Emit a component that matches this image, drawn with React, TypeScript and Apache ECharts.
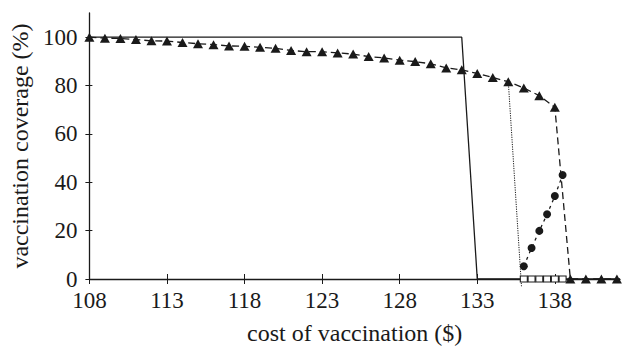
import React, { useEffect, useRef } from "react";
import * as echarts from "echarts";

// Tick labels
const xTicks = [108, 113, 118, 123, 128, 133, 138];
const yTicks = [0, 20, 40, 60, 80, 100];

// Solid line (step-like drop at 133)
const solidX = [108, 132, 133, 142.2];
const solidY = [100, 100, 0, 0];

// Triangles with dashed line
const triX = [108, 109, 110, 111, 112, 113, 114, 115, 116, 117, 118, 119, 120, 121, 122, 123, 124, 125, 126, 127, 128, 129, 130, 131, 132, 133, 134, 135, 136, 137, 138, 139, 140, 141, 142];
const triY = [100, 99.6, 99.5, 99, 98.5, 98.4, 97.8, 97.3, 96.9, 96.4, 96.2, 95.8, 95.4, 94.5, 94.0, 94.0, 93.5, 93, 92, 91.4, 90.5, 89.9, 89, 87.3, 86.5, 85, 83.3, 81.6, 79, 75.8, 71, 0, 0, 0, 0];

// Dotted drop line
const dotX = [135, 135.85];
const dotY = [81.6, -3];

// Circles with short-dashed line
const circX = [136, 136.5, 137, 137.5, 138, 138.5];
const circY = [5.3, 12.8, 19.9, 26.8, 34.3, 43];

// Open squares at zero
const sqX = [136, 136.5, 137, 137.5, 138, 138.5];
const sqY = [0, 0, 0, 0, 0, 0];

const pairs = (xs: number[], ys: number[]) => xs.map((x, i) => [x, ys[i]]);

export default function App() {
  const ref = useRef<HTMLDivElement>(null);
  useEffect(() => {
    if (!ref.current) return;
    const chart = echarts.init(ref.current, null, { renderer: "svg" });
    const font = "'Liberation Serif', 'Times New Roman', serif";
    const ink = "#1a1a1a";
    const xBase = {
      type: "value" as const,
      min: 108,
      max: 142.2,
      position: "bottom" as const,
      splitLine: { show: false },
    };
    const yBase = {
      type: "value" as const,
      min: 0,
      max: 110,
      position: "left" as const,
      splitLine: { show: false },
    };
    chart.setOption({
      animation: false,
      backgroundColor: "#ffffff",
      grid: { left: 83.3, top: 13, right: 2, bottom: 66.5, containLabel: false },
      xAxis: [
        {
          ...xBase,
          name: "cost of vaccination ($)",
          nameLocation: "middle",
          nameGap: 42,
          nameTextStyle: { fontFamily: font, fontSize: 24, color: ink },
          axisLine: { show: true, lineStyle: { color: ink, width: 1.3 } },
          axisTick: { show: true, inside: false, length: 5, lineStyle: { color: ink }, customValues: xTicks },
          axisLabel: { show: true, customValues: xTicks, fontFamily: font, fontSize: 23, color: ink, margin: 10 },
        },
        {
          ...xBase,
          axisLine: { show: false },
          axisTick: { show: true, inside: true, length: 5, lineStyle: { color: ink }, customValues: xTicks },
          axisLabel: { show: false },
        },
      ],
      yAxis: [
        {
          ...yBase,
          name: "vaccination coverage (%)",
          nameLocation: "middle",
          nameGap: 53,
          nameTextStyle: { fontFamily: font, fontSize: 24, color: ink, padding: [0, 0, 3, 0] },
          axisLine: { show: true, lineStyle: { color: ink, width: 1.3 } },
          axisTick: { show: true, inside: false, length: 4, lineStyle: { color: ink }, customValues: yTicks },
          axisLabel: { show: true, customValues: yTicks, fontFamily: font, fontSize: 23, color: ink, margin: 12 },
        },
        {
          ...yBase,
          axisLine: { show: false },
          axisTick: { show: true, inside: true, length: 3, lineStyle: { color: ink }, customValues: yTicks },
          axisLabel: { show: false },
        },
      ],
      series: [
        {
          type: "line",
          data: pairs(solidX, solidY),
          symbol: "none",
          lineStyle: { color: ink, width: 1.3 },
          z: 2,
        },
        {
          type: "line",
          data: pairs(dotX, dotY),
          symbol: "none",
          clip: false,
          lineStyle: { color: ink, width: 1, type: [1.2, 1.2] },
          z: 2,
        },
        {
          type: "line",
          data: pairs(triX, triY),
          symbol: "triangle",
          symbolSize: [10, 9],
          itemStyle: { color: ink },
          lineStyle: { color: ink, width: 1.3, type: [7, 4] },
          z: 3,
        },
        {
          type: "line",
          data: pairs(circX, circY),
          symbol: "circle",
          symbolSize: 8,
          itemStyle: { color: ink },
          lineStyle: { color: ink, width: 1.3, type: [3, 4] },
          z: 3,
        },
        {
          type: "line",
          data: pairs(sqX, sqY),
          symbol: "rect",
          symbolSize: [7, 6],
          itemStyle: { color: "#ffffff", borderColor: ink, borderWidth: 1 },
          lineStyle: { color: ink, width: 1 },
          z: 4,
        },
      ],
    });
    return () => chart.dispose();
  }, []);
  return <div ref={ref} style={{ width: 622, height: 350, position: "absolute", left: 0, top: 0 }} />;
}
